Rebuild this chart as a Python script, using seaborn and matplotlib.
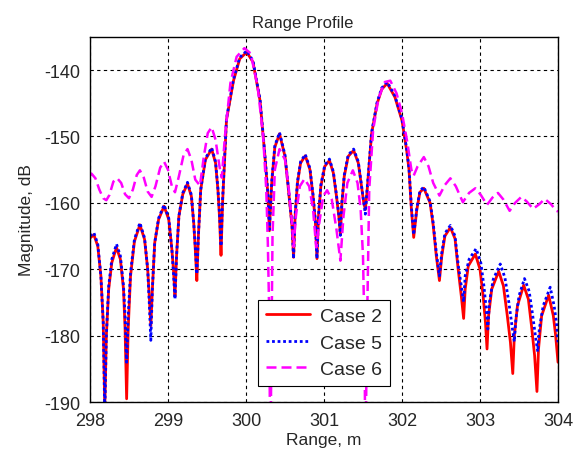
import pandas as pd
import seaborn as sns
import matplotlib.pyplot as plt

# values (range in m, magnitude in dB)
case2_x = [298.00, 298.05, 298.10, 298.14, 298.17, 298.19,
           298.21, 298.24, 298.28, 298.34, 298.39, 298.43, 298.45, 298.47,
           298.49, 298.52, 298.57, 298.64, 298.70, 298.74, 298.76, 298.78,
           298.80, 298.83, 298.88, 298.95, 299.01, 299.05, 299.07, 299.09,
           299.11, 299.14, 299.19, 299.25, 299.30, 299.33, 299.35, 299.37,
           299.39, 299.42, 299.48, 299.56, 299.61, 299.64, 299.66, 299.68,
           299.70, 299.75, 299.84, 299.92, 300.01, 300.09, 300.18, 300.24, 300.28, 300.30,
           300.33, 300.37, 300.43, 300.50, 300.54, 300.59, 300.61,
           300.63, 300.66, 300.70, 300.76, 300.82, 300.86, 300.89, 300.91,
           300.93, 300.96, 301.01, 301.07, 301.12, 301.16, 301.19, 301.21,
           301.23, 301.26, 301.31, 301.38, 301.44, 301.48, 301.51, 301.53,
           301.55, 301.61, 301.68, 301.74, 301.81, 301.91, 302.00, 302.06, 302.09, 302.12, 302.15,
           302.19, 302.23, 302.28, 302.36, 302.40, 302.44, 302.48,
           302.51, 302.55, 302.62, 302.68, 302.72, 302.76, 302.79,
           302.81, 302.85, 302.94, 303.00, 303.04, 303.07, 303.09,
           303.11, 303.15, 303.24, 303.30, 303.35, 303.39, 303.42,
           303.44, 303.48, 303.56, 303.62, 303.66, 303.70, 303.73,
           303.75, 303.79, 303.88, 303.94, 303.97, 304.00]
case2_y = [-165.3, -164.8, -166.5, -171.0, -178.0, -191.0,
           -180.0, -173.0, -169.0, -166.7, -168.5, -173.0, -179.0, -189.5,
           -179.0, -171.0, -165.8, -163.3, -165.5, -170.0, -174.0, -178.5,
           -173.0, -166.0, -162.5, -160.5, -162.5, -167.0, -170.0, -174.0,
           -168.0, -162.0, -158.7, -157.1, -159.0, -163.0, -167.0, -171.7,
           -165.0, -158.0, -153.5, -151.9, -154.0, -158.0, -162.0, -167.9,
           -160.0, -147.5, -141.6, -138.3, -137.3, -138.8, -144.6, -152.6, -158.6, -164.2,
           -157.0, -151.6, -149.6, -153.0, -157.5, -163.5, -168.2,
           -162.0, -157.0, -154.0, -152.9, -155.0, -159.0, -163.0, -168.4,
           -162.0, -157.5, -154.5, -153.6, -155.5, -159.0, -162.0, -164.7,
           -160.0, -156.0, -153.0, -152.1, -154.0, -157.5, -160.0, -161.0,
           -158.6, -149.6, -145.1, -142.9, -142.0, -144.1, -147.6, -152.1, -155.0, -160.9, -165.2,
           -161.0, -158.4, -157.8, -160.0, -163.4, -168.0, -171.7,
           -168.0, -165.0, -163.7, -165.4, -170.0, -174.0, -177.4,
           -173.0, -169.5, -167.7, -170.0, -174.0, -178.0, -182.0,
           -177.0, -173.0, -170.3, -172.5, -177.0, -181.0, -185.7,
           -180.0, -175.5, -172.4, -174.5, -178.5, -183.0, -188.4,
           -182.0, -177.0, -173.9, -177.0, -180.0, -184.0]

case5_x = [298.00, 298.05, 298.10, 298.14, 298.17, 298.19,
           298.21, 298.24, 298.28, 298.34, 298.39, 298.43, 298.45, 298.47,
           298.49, 298.52, 298.57, 298.64, 298.70, 298.74, 298.76, 298.78,
           298.80, 298.83, 298.88, 298.95, 299.01, 299.05, 299.07, 299.09,
           299.11, 299.14, 299.19, 299.25, 299.30, 299.33, 299.35, 299.37,
           299.39, 299.42, 299.48, 299.56, 299.61, 299.64, 299.66, 299.68,
           299.70, 299.75, 299.84, 299.92, 300.01, 300.09, 300.18, 300.24, 300.28, 300.30,
           300.33, 300.37, 300.43, 300.50, 300.54, 300.59, 300.61,
           300.63, 300.66, 300.70, 300.76, 300.82, 300.86, 300.89, 300.91,
           300.93, 300.96, 301.01, 301.07, 301.12, 301.16, 301.19, 301.21,
           301.23, 301.26, 301.31, 301.38, 301.44, 301.48, 301.51, 301.53,
           301.55, 301.61, 301.68, 301.74, 301.81, 301.91, 302.00, 302.06, 302.09, 302.12, 302.15,
           302.19, 302.23, 302.28, 302.36, 302.40, 302.44, 302.48,
           302.51, 302.55, 302.62, 302.68, 302.72, 302.76, 302.79,
           302.81, 302.86, 302.95, 303.01, 303.05, 303.08, 303.10,
           303.12, 303.17, 303.26, 303.32, 303.37, 303.41, 303.44,
           303.46, 303.50, 303.57, 303.63, 303.67, 303.71, 303.74,
           303.76, 303.81, 303.90, 303.95, 303.98, 304.00]
case5_y = [-165.0, -164.5, -166.2, -171.0, -178.0, -192.0,
           -180.0, -172.5, -168.5, -166.2, -168.0, -172.5, -177.0, -184.0,
           -177.0, -170.5, -165.5, -163.0, -165.3, -170.0, -175.0, -180.7,
           -173.0, -166.0, -162.3, -160.3, -162.3, -167.0, -170.5, -174.5,
           -168.0, -162.0, -158.5, -156.9, -158.8, -163.0, -166.5, -170.7,
           -165.0, -158.0, -153.3, -151.7, -153.8, -157.8, -161.5, -166.5,
           -159.5, -147.3, -141.4, -138.1, -137.1, -138.6, -144.4, -152.4, -158.4, -164.0,
           -156.8, -151.4, -149.4, -152.8, -157.3, -163.3, -168.4,
           -161.8, -156.8, -153.8, -152.7, -154.8, -158.8, -162.8, -168.4,
           -161.8, -157.3, -154.3, -153.4, -155.3, -158.8, -161.8, -164.9,
           -159.8, -155.8, -152.8, -151.9, -153.8, -157.3, -159.8, -161.7,
           -158.4, -149.4, -144.9, -142.7, -141.8, -143.9, -147.4, -151.9, -154.8, -160.5, -164.8,
           -160.8, -158.2, -157.6, -159.8, -163.0, -167.5, -171.0,
           -167.5, -164.6, -163.4, -165.0, -169.3, -172.5, -174.9,
           -171.0, -168.5, -166.9, -169.0, -172.5, -176.0, -179.0,
           -175.0, -171.5, -169.2, -171.3, -175.0, -178.5, -180.9,
           -177.5, -174.0, -171.4, -173.3, -176.5, -180.0, -182.4,
           -179.0, -175.5, -172.7, -175.5, -178.0, -181.0]

case6_x = [298.00, 298.02, 298.07, 298.12, 298.17, 298.21, 298.25, 298.30, 298.35,
           298.40, 298.45, 298.50, 298.55, 298.60, 298.64, 298.69, 298.74, 298.79,
           298.84, 298.90, 298.95, 299.00, 299.05, 299.09, 299.14, 299.20, 299.25,
           299.30, 299.35, 299.41, 299.46, 299.51, 299.56, 299.61, 299.66, 299.69,
           299.73, 299.80, 299.88, 299.98, 300.06, 300.15, 300.22, 300.26, 300.28,
           300.30, 300.31, 300.32, 300.34, 300.37, 300.43, 300.50, 300.55, 300.59,
           300.61, 300.64, 300.69, 300.75, 300.81, 300.86, 300.90, 300.94, 300.99,
           301.04, 301.10, 301.16, 301.21, 301.25, 301.30, 301.37, 301.43, 301.47,
           301.50, 301.52, 301.53, 301.55, 301.58, 301.63, 301.70, 301.78, 301.85,
           301.93, 302.00, 302.07, 302.12, 302.15, 302.20, 302.28, 302.34, 302.40,
           302.48, 302.55, 302.62, 302.69, 302.78, 302.86, 302.94, 303.01, 303.09,
           303.16, 303.23, 303.30, 303.38, 303.45, 303.53, 303.60, 303.68, 303.76,
           303.83, 303.91, 303.98, 304.00]
case6_y = [-155.9, -155.6, -156.3, -158.0, -159.3, -159.6, -158.8, -156.8, -156.3,
           -157.0, -158.7, -159.3, -158.0, -155.8, -155.1, -156.2, -158.3, -159.1,
           -157.5, -154.7, -153.8, -155.0, -157.5, -158.4, -156.0, -152.8, -151.9,
           -153.5, -156.5, -157.4, -153.0, -149.5, -148.6, -150.5, -154.5, -156.2,
           -150.0, -142.0, -138.0, -136.7, -137.5, -142.5, -150.0, -158.0, -166.0,
           -178.0, -200.0, -190.0, -165.0, -155.0, -151.9, -153.5, -158.0, -163.0,
           -166.6, -162.0, -157.5, -156.4, -157.5, -161.0, -166.7, -163.0, -159.0,
           -158.1, -159.5, -164.0, -168.7, -162.0, -157.0, -155.1, -157.0, -161.0,
           -168.0, -180.0, -200.0, -180.0, -158.0, -149.0, -144.2, -141.8, -141.6,
           -143.5, -146.5, -151.0, -155.0, -155.9, -154.5, -153.1, -154.5, -157.0,
           -158.9, -157.3, -156.3, -157.5, -159.9, -158.5, -157.8, -158.8, -160.3,
           -159.2, -158.5, -159.5, -161.2, -160.0, -159.1, -159.8, -160.9, -160.2,
           -159.4, -160.2, -161.2, -161.3]

x_ticks = [298, 299, 300, 301, 302, 303, 304]
y_ticks = [-190, -180, -170, -160, -150, -140]

sns.set_style('white')
plt.rcParams['font.family'] = ['Liberation Sans', 'DejaVu Sans']
plt.rcParams['axes.unicode_minus'] = False

fig, ax = plt.subplots(figsize=(5.88, 4.56), dpi=100)
fig.subplots_adjust(left=0.153, right=0.949, top=0.917, bottom=0.116)

sns.lineplot(x=case2_x, y=case2_y, ax=ax, color='red', linewidth=2,
             label='Case 2', sort=False, estimator=None)
sns.lineplot(x=case5_x, y=case5_y, ax=ax, color='blue', linewidth=2,
             linestyle=(0, (1, 1)), label='Case 5', sort=False, estimator=None)
sns.lineplot(x=case6_x, y=case6_y, ax=ax, color='magenta', linewidth=1.8,
             linestyle=(0, (4, 2)), label='Case 6', sort=False, estimator=None)

ax.set_xlim(298, 304)
ax.set_ylim(-190, -135)
ax.set_xticks(x_ticks)
ax.set_yticks(y_ticks)
ax.tick_params(direction='in', labelsize=13, length=4)
ax.tick_params(axis='x', pad=7)
ax.tick_params(axis='y', pad=7)
ax.grid(True, color='black', linestyle=(0, (3, 3)), linewidth=0.8)
ax.set_axisbelow(True)
for s in ax.spines.values():
    s.set_color('black')
    s.set_linewidth(1)

ax.set_xlabel('Range, m', fontsize=12.5, labelpad=2)
ax.set_ylabel('Magnitude, dB', fontsize=12.5, labelpad=7)
ax.set_title('Range Profile', fontsize=12, pad=7, x=0.455)

leg = ax.legend(loc='lower left', bbox_to_anchor=(0.359, 0.045), fontsize=14,
                frameon=True, fancybox=False, edgecolor='black', framealpha=1,
                handlelength=2.3, borderpad=0.4, labelspacing=0.45, handletextpad=0.5,
                borderaxespad=0)
leg.get_frame().set_linewidth(0.8)

plt.savefig('out.png', dpi=100)
